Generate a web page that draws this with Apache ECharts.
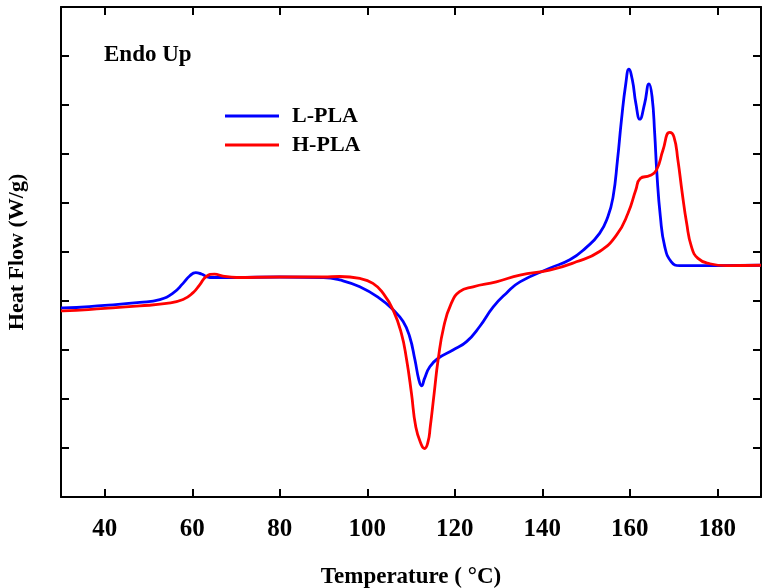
<!DOCTYPE html>
<html>
<head>
<meta charset="utf-8">
<script src="https://cdn.jsdelivr.net/npm/echarts@6/dist/echarts.min.js"></script>
<style>
  html, body { margin: 0; padding: 0; background: #fff; }
  #chart { width: 763px; height: 588px; }
</style>
</head>
<body>
<div id="chart"></div>
<script>
// DSC heating scans (Endo Up). Heat flow in arbitrary units (one tick per unit).
const lplaT  = [30, 30.5, 40, 48.0, 52.6, 55.6, 57.9, 59.4, 60.8, 62.1, 64.0, 69.3, 80, 90, 93.7, 98.3, 102.9, 105.9, 108.2, 109.7, 110.9, 111.8, 112.4, 113.1, 114.3, 116.2, 119.6, 122.7, 125.7, 128.8, 131.8, 134.9, 141.7, 146.3, 149.9, 153.1, 155.0, 156.2, 157.2, 158.1, 159.1, 159.8, 160.6, 161.4, 162.3, 163.4, 164.4, 165.1, 165.7, 166.2, 167.0, 168.0, 169.5, 171.4, 180, 190];
const lplaHF = [3.86, 3.86, 3.91, 3.97, 4.03, 4.16, 4.36, 4.51, 4.58, 4.55, 4.48, 4.48, 4.49, 4.48, 4.43, 4.29, 4.05, 3.82, 3.58, 3.27, 2.80, 2.39, 2.27, 2.42, 2.66, 2.83, 3.00, 3.17, 3.48, 3.88, 4.16, 4.39, 4.67, 4.84, 5.08, 5.38, 5.72, 6.13, 6.88, 7.69, 8.44, 8.73, 8.51, 8.03, 7.71, 8.03, 8.43, 8.17, 7.42, 6.61, 5.72, 5.11, 4.80, 4.72, 4.72, 4.73];

const hplaT  = [30, 30.5, 40, 48.0, 54.1, 57.9, 60.2, 61.7, 63.2, 65.1, 67.0, 70.1, 80, 90, 93.7, 98.3, 101.3, 103.6, 105.9, 107.8, 109.0, 110.1, 111.1, 112.4, 113.1, 113.9, 114.4, 115.3, 116.2, 117.5, 119.2, 121.1, 124.2, 129.5, 134.9, 141.7, 147.8, 153.1, 157.0, 159.6, 161.4, 162.4, 164.6, 166.1, 167.6, 169.1, 170.1, 171.0, 172.0, 173.0, 174.1, 175.6, 178.3, 182.1, 190];
const hplaHF = [3.80, 3.80, 3.85, 3.90, 3.95, 4.03, 4.17, 4.33, 4.50, 4.55, 4.51, 4.48, 4.49, 4.49, 4.50, 4.46, 4.36, 4.16, 3.82, 3.34, 2.80, 2.12, 1.43, 1.06, 0.99, 1.13, 1.43, 2.12, 2.80, 3.48, 3.95, 4.19, 4.29, 4.39, 4.53, 4.63, 4.80, 5.01, 5.35, 5.79, 6.27, 6.50, 6.56, 6.67, 7.08, 7.44, 7.35, 6.88, 6.20, 5.59, 5.11, 4.87, 4.76, 4.72, 4.73];

const xTicks = [40, 60, 80, 100, 120, 140, 160, 180];
const seriesNames = ['L-PLA', 'H-PLA'];

const pairs = (xs, ys) => xs.map((x, i) => [x, ys[i]]);
const serif = '"Liberation Serif", "Times New Roman", serif';

const frame = { show: true, onZero: false, lineStyle: { color: '#000', width: 2 } };
const inTick = { show: true, inside: true, length: 8, lineStyle: { color: '#000', width: 2 } };
const xTick = Object.assign({ customValues: xTicks }, inTick);

const chart = echarts.init(document.getElementById('chart'), null, { renderer: 'canvas' });
chart.setOption({
  animation: false,
  backgroundColor: '#fff',
  grid: { left: 61, right: 2, top: 7, bottom: 91, containLabel: false, outerBoundsMode: 'none' },
  legend: {
    orient: 'vertical',
    left: 225, top: 105,
    padding: 0,
    itemGap: 7,
    itemWidth: 54, itemHeight: 3,
    icon: 'rect',
    data: seriesNames,
    textStyle: { fontFamily: serif, fontWeight: 'bold', fontSize: 22, lineHeight: 22, color: '#000', padding: [0, 0, 0, 8] }
  },
  xAxis: [{
    type: 'value', min: 30, max: 190,
    axisLine: frame, axisTick: xTick, splitLine: { show: false },
    axisLabel: {
      customValues: xTicks,
      margin: 20, fontFamily: serif, fontWeight: 'bold', fontSize: 25, color: '#000'
    },
    name: 'Temperature ( °C)', nameLocation: 'middle', nameGap: 69,
    nameTextStyle: { fontFamily: serif, fontWeight: 'bold', fontSize: 23, color: '#000' }
  }, {
    type: 'value', position: 'top', min: 30, max: 190,
    axisLine: frame, axisTick: xTick, axisLabel: { show: false }, splitLine: { show: false }
  }],
  yAxis: [{
    type: 'value', min: 0, max: 10, interval: 1,
    axisLine: frame, axisTick: inTick, axisLabel: { show: false }, splitLine: { show: false },
    name: 'Heat Flow (W/g)', nameLocation: 'middle', nameGap: 33, nameRotate: 90,
    nameTextStyle: { fontFamily: serif, fontWeight: 'bold', fontSize: 22, color: '#000' }
  }, {
    type: 'value', position: 'right', min: 0, max: 10, interval: 1,
    axisLine: frame, axisTick: inTick, axisLabel: { show: false }, splitLine: { show: false }
  }],
  series: [{
    name: seriesNames[0], type: 'line', data: pairs(lplaT, lplaHF),
    showSymbol: false, smooth: 0.5,
    color: '#0000ff', lineStyle: { color: '#0000ff', width: 2.8 }
  }, {
    name: seriesNames[1], type: 'line', data: pairs(hplaT, hplaHF),
    showSymbol: false, smooth: 0.5,
    color: '#ff0000', lineStyle: { color: '#ff0000', width: 2.8 }
  }],
  graphic: [{
    type: 'text', left: 104, top: 44,
    style: { text: 'Endo Up', fill: '#000', font: 'bold 23px ' + serif }
  }]
});
</script>
</body>
</html>
